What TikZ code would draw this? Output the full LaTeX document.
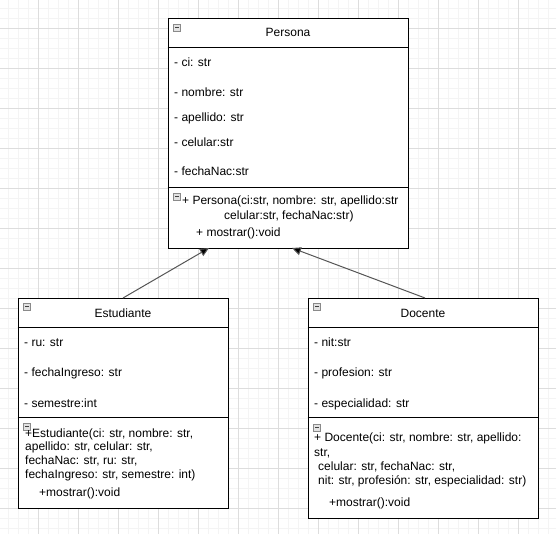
\documentclass[tikz,border=0pt]{standalone}
\usepackage{fontspec}
\setmainfont{Liberation Sans}
\usetikzlibrary{arrows.meta}
\definecolor{gridminor}{HTML}{F4F4F4}
\definecolor{gridmajor}{HTML}{DDDDDD}
\definecolor{linkgray}{HTML}{555555}
\definecolor{iconfill}{HTML}{E2E2E2}
\definecolor{iconline}{HTML}{8A8A8A}
\tikzset{
  umlbox/.style={draw=black, line width=0.9pt, rectangle, inner sep=0pt, fill=white},
  divider/.style={draw=black, line width=0.9pt},
  member/.style={anchor=base west, inner sep=0pt, font=\fontsize{12}{14}\selectfont},
  title/.style={anchor=base, inner sep=0pt, font=\fontsize{12}{14}\selectfont},
  collapse/.style={draw=iconline, fill=iconfill, line width=0.5pt, minimum width=7pt, minimum height=7pt, inner sep=0pt,
    path picture={\draw[black!75, line width=0.7pt]
      ([xshift=1.5pt]path picture bounding box.west) -- ([xshift=-1.5pt]path picture bounding box.east);}},
  inherit/.style={draw=linkgray, line width=1pt, -{Triangle[length=9pt,width=8pt,fill=black]}}
}
\begin{document}
\begin{tikzpicture}[x=1pt,y=-1pt]
  \useasboundingbox (0,0) rectangle (556,534);
  % background grid
  \foreach \g in {8,18,...,548} \draw[gridminor, line width=0.5pt] (\g,0) -- (\g,534);
  \foreach \g in {8,18,...,528} \draw[gridminor, line width=0.5pt] (0,\g) -- (556,\g);
  \foreach \g in {38,78,...,518} \draw[gridmajor, line width=0.6pt] (\g,0) -- (\g,534);
  \foreach \g in {28,68,...,508} \draw[gridmajor, line width=0.6pt] (0,\g) -- (556,\g);

  % ---------- Persona ----------
  \node[umlbox, minimum width=240pt, minimum height=230pt] (persona) at (288,133) {};
  \draw[divider] ([yshift=-30pt]persona.north west) -- ([yshift=-30pt]persona.north east);
  \draw[divider] ([yshift=-170pt]persona.north west) -- ([yshift=-170pt]persona.north east);
  \node[collapse] (pIcon) at (177,27.5) {};
  \node[title] (pTitle) at (288,37) {Persona};
  \node[member] (pA1) at (174,67) {- ci: str};
  \node[member] (pA2) at (174,97) {- nombre: str};
  \node[member] (pA3) at (174,122) {- apellido: str};
  \node[member] (pA4) at (174,147) {- celular:str};
  \node[member] (pA5) at (174,176) {- fechaNac:str};
  \node[collapse] (pIcon2) at (177,196.5) {};
  \node[member] (pM1) at (182,205) {+ Persona(ci:str, nombre: str, apellido:str};
  \node[member] (pM2) at (224,220) {celular:str, fechaNac:str)};
  \node[member] (pM3) at (196,237) {+ mostrar():void};

  % ---------- Estudiante ----------
  \node[umlbox, minimum width=210pt, minimum height=210pt] (estudiante) at (123,403) {};
  \draw[divider] ([yshift=-30pt]estudiante.north west) -- ([yshift=-30pt]estudiante.north east);
  \draw[divider] ([yshift=-120pt]estudiante.north west) -- ([yshift=-120pt]estudiante.north east);
  \node[collapse] (eIcon) at (27,306.5) {};
  \node[title] (eTitle) at (123,317) {Estudiante};
  \node[member] (eA1) at (24,346) {- ru: str};
  \node[member] (eA2) at (24,376) {- fechaIngreso: str};
  \node[member] (eA3) at (24,407) {- semestre:int};
  \node[collapse] (eIcon2) at (27,426.5) {};
  \node[member] (eM1) at (25,437) {+Estudiante(ci: str, nombre: str,};
  \node[member] (eM2) at (25,450.5) {apellido: str, celular: str,};
  \node[member] (eM3) at (25,464.5) {fechaNac: str, ru: str,};
  \node[member] (eM4) at (25,478) {fechaIngreso: str, semestre: int)};
  \node[member] (eM5) at (39,496) {+mostrar():void};

  % ---------- Docente ----------
  \node[umlbox, minimum width=230pt, minimum height=220pt] (docente) at (423,408) {};
  \draw[divider] ([yshift=-30pt]docente.north west) -- ([yshift=-30pt]docente.north east);
  \draw[divider] ([yshift=-120pt]docente.north west) -- ([yshift=-120pt]docente.north east);
  \node[collapse] (dIcon) at (317,306.5) {};
  \node[title] (dTitle) at (423,317) {Docente};
  \node[member] (dA1) at (314,346) {- nit:str};
  \node[member] (dA2) at (314,376) {- profesion: str};
  \node[member] (dA3) at (314,407) {- especialidad: str};
  \node[collapse] (dIcon2) at (317,427.5) {};
  \node[member] (dM1) at (314,441) {+ Docente(ci: str, nombre: str, apellido:};
  \node[member] (dM2) at (314,456) {str,};
  \node[member] (dM3) at (318,470) {celular: str, fechaNac: str,};
  \node[member] (dM4) at (318,484) {nit: str, profesión: str, especialidad: str)};
  \node[member] (dM5) at (329,506) {+mostrar():void};

  % ---------- generalisation links ----------
  \coordinate (eTop) at (123,298);
  \coordinate (dTop) at (425,298);
  \coordinate (pIn1) at (209,248);
  \coordinate (pIn2) at (292,248);
  \draw[inherit] (eTop) -- (pIn1);
  \draw[inherit] (dTop) -- (pIn2);
\end{tikzpicture}
\end{document}
